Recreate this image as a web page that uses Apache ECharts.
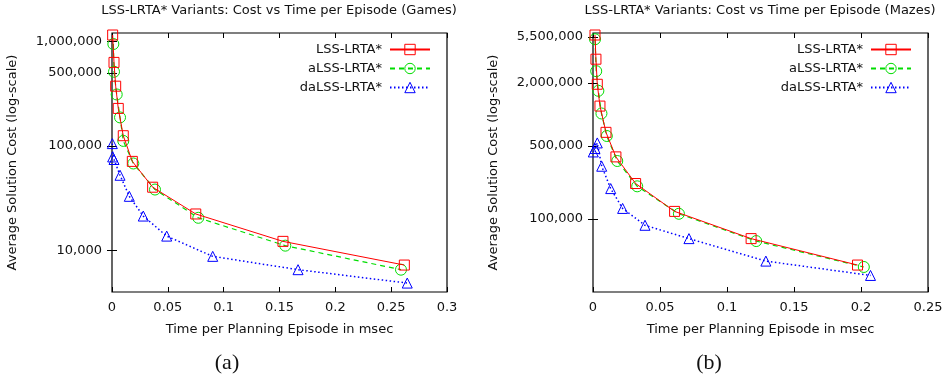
<!DOCTYPE html>
<html>
<head>
<meta charset="utf-8">
<script src="https://cdn.jsdelivr.net/npm/echarts@6/dist/echarts.min.js"></script>
<style>
  html, body { margin: 0; padding: 0; background: #ffffff; }
  #chart { width: 948px; height: 381px; }
</style>
</head>
<body>
<div id="chart"></div>
<script>
// ---- Games benchmark: time per planning episode (msec) vs average solution cost ----
const gamesTimeLss   = [0.0006, 0.0018, 0.0033, 0.0056, 0.0101, 0.0182, 0.0364, 0.0750, 0.1531, 0.2618];
const gamesCostLss   = [1148000, 628000, 372000, 228000, 125000, 71000, 40200, 22300, 12200, 7240];
const gamesTimeALss  = [0.0012, 0.0018, 0.0042, 0.0072, 0.0101, 0.0191, 0.0385, 0.0773, 0.1552, 0.2588];
const gamesCostALss  = [941000, 511000, 310000, 187000, 111500, 67800, 38200, 20500, 11100, 6540];
const gamesTimeDaLss = [0.0003, 0.0006, 0.0018, 0.0072, 0.0155, 0.0280, 0.0490, 0.0902, 0.1666, 0.2644];
const gamesCostDaLss = [105000, 78300, 74000, 52300, 32900, 21300, 13700, 8770, 6540, 4870];

// ---- Mazes benchmark ----
const mazesTimeLss   = [0.0015, 0.0022, 0.0032, 0.0052, 0.0097, 0.0171, 0.0318, 0.0609, 0.1180, 0.1974];
const mazesCostLss   = [5740000, 3370000, 1940000, 1200000, 673000, 392000, 218000, 118000, 64800, 36200];
const mazesTimeALss  = [0.0015, 0.0024, 0.0040, 0.0063, 0.0103, 0.0181, 0.0330, 0.0641, 0.1218, 0.2021];
const mazesCostALss  = [5230000, 2590000, 1680000, 1020000, 621000, 358000, 205000, 112000, 61400, 34700];
const mazesTimeDaLss = [0.0002, 0.0015, 0.0032, 0.0065, 0.0132, 0.0221, 0.0388, 0.0716, 0.1290, 0.2071];
const mazesCostDaLss = [437000, 472000, 533000, 319000, 195000, 126000, 86900, 64800, 39500, 28800];

// ---- labels and tick values ----
const seriesNames   = ['LSS-LRTA*', 'aLSS-LRTA*', 'daLSS-LRTA*'];
const gamesYTicks   = [10000, 100000, 500000, 1000000];
const mazesYTicks   = [100000, 500000, 2000000, 5500000];
const gamesTitle    = 'LSS-LRTA* Variants: Cost vs Time per Episode (Games)';
const mazesTitle    = 'LSS-LRTA* Variants: Cost vs Time per Episode (Mazes)';
const xAxisTitle    = 'Time per Planning Episode in msec';
const yAxisTitle    = 'Average Solution Cost (log-scale)';
const subCaptions   = ['(a)', '(b)'];

const FONT = 'DejaVu Sans';
const INK = '#111111';

const styles = [
  { color: '#ff0000', symbol: 'rect',     size: 10, width: 1,   type: 'solid' },
  { color: '#00dd00', symbol: 'circle',   size: 11, width: 1.2, type: [5, 4] },
  { color: '#0000ff', symbol: 'triangle', size: 10, width: 1.5, type: [1.5, 2.5] }
];

function thousands(v) {
  return String(Math.round(v)).replace(/\B(?=(\d{3})+(?!\d))/g, ',');
}

function pairs(xs, ys) {
  return xs.map((x, i) => [x, ys[i]]);
}

function xAxes(gridIndex, max) {
  const base = {
    type: 'value', gridIndex, min: 0, max, interval: 0.05,
    splitLine: { show: false },
    axisLine: { show: false },
    axisTick: { show: true, inside: true, length: 5, lineStyle: { color: '#000', width: 1 } }
  };
  return [
    Object.assign({}, base, {
      position: 'bottom',
      name: xAxisTitle, nameLocation: 'middle', nameGap: 31,
      nameTextStyle: { fontFamily: FONT, fontSize: 13, color: INK },
      axisLabel: { show: true, margin: 9, fontFamily: FONT, fontSize: 13, color: INK,
                   showMinLabel: true, showMaxLabel: true }
    }),
    Object.assign({}, base, { position: 'top', axisLabel: { show: false } })
  ];
}

function yAxes(gridIndex, min, max, ticks) {
  const base = {
    type: 'log', logBase: 10, gridIndex, min, max,
    splitLine: { show: false },
    minorTick: { show: false },
    axisLine: { show: false },
    axisTick: { show: true, inside: true, length: 5, customValues: ticks,
                lineStyle: { color: '#000', width: 1 } }
  };
  return [
    Object.assign({}, base, {
      position: 'left',
      name: yAxisTitle, nameLocation: 'middle', nameGap: 93,
      nameTextStyle: { fontFamily: FONT, fontSize: 13, color: INK },
      axisLabel: { show: true, margin: 10, fontFamily: FONT, fontSize: 13, color: INK,
                   customValues: ticks, formatter: thousands }
    }),
    Object.assign({}, base, { position: 'right', axisLabel: { show: false } })
  ];
}

function lineSeries(k, xs, ys, xIdx, yIdx) {
  const s = styles[k];
  return {
    name: seriesNames[k], type: 'line',
    xAxisIndex: xIdx, yAxisIndex: yIdx,
    data: pairs(xs, ys),
    symbol: s.symbol, symbolSize: s.size,
    showAllSymbol: true,
    lineStyle: { color: s.color, width: s.width, type: s.type },
    itemStyle: { color: 'rgba(255,255,255,0)', borderColor: s.color, borderWidth: 1 },
    emphasis: { disabled: true },
    animation: false,
    z: 3 - k
  };
}

function legendFor(rightPx) {
  return {
    orient: 'vertical', right: rightPx, top: 43, padding: 0,
    align: 'right', itemWidth: 40, itemHeight: 13, itemGap: 6,
    selectedMode: false,
    itemStyle: { borderWidth: 1 },
    textStyle: { fontFamily: FONT, fontSize: 13, color: INK, padding: [0, 3, 0, 0] },
    data: seriesNames
  };
}

const chart = echarts.init(document.getElementById('chart'), null, { renderer: 'canvas' });

chart.setOption({
  backgroundColor: '#ffffff',
  animation: false,
  grid: [
    { left: 112, top: 33, width: 335, height: 259, show: true, borderColor: '#000', borderWidth: 1.2, backgroundColor: 'transparent' },
    { left: 593, top: 33, width: 335, height: 259, show: true, borderColor: '#000', borderWidth: 1.2, backgroundColor: 'transparent' }
  ],
  xAxis: [].concat(xAxes(0, 0.3), xAxes(1, 0.25)),
  yAxis: [].concat(yAxes(0, 4000, 1200000, gamesYTicks), yAxes(1, 20000, 6000000, mazesYTicks)),
  legend: [legendFor(517), legendFor(36)],
  series: [
    lineSeries(0, gamesTimeLss,   gamesCostLss,   0, 0),
    lineSeries(1, gamesTimeALss,  gamesCostALss,  0, 0),
    lineSeries(2, gamesTimeDaLss, gamesCostDaLss, 0, 0),
    lineSeries(0, mazesTimeLss,   mazesCostLss,   2, 2),
    lineSeries(1, mazesTimeALss,  mazesCostALss,  2, 2),
    lineSeries(2, mazesTimeDaLss, mazesCostDaLss, 2, 2)
  ],
  graphic: [
    { type: 'text', x: 279, y: 11, style: { text: gamesTitle, fontFamily: FONT, fontSize: 13, fill: INK, align: 'center', verticalAlign: 'middle' } },
    { type: 'text', x: 760, y: 11, style: { text: mazesTitle, fontFamily: FONT, fontSize: 13, fill: INK, align: 'center', verticalAlign: 'middle' } },
    { type: 'text', x: 227, y: 363, style: { text: subCaptions[0], fontFamily: 'Liberation Serif', fontSize: 22, fill: INK, align: 'center', verticalAlign: 'middle' } },
    { type: 'text', x: 709, y: 363, style: { text: subCaptions[1], fontFamily: 'Liberation Serif', fontSize: 22, fill: INK, align: 'center', verticalAlign: 'middle' } }
  ]
});
</script>
</body>
</html>
